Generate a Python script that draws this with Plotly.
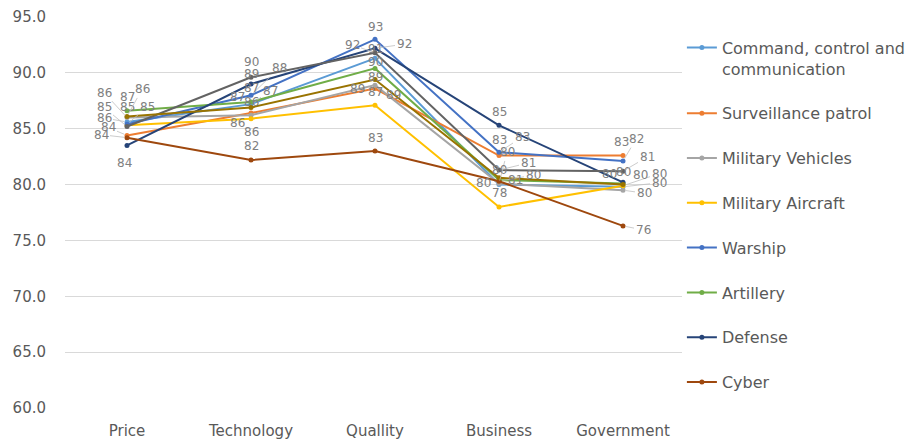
import math
import plotly.graph_objects as go

categories = ["Price", "Technology", "Quallity", "Business", "Government"]

command = [85.6, 87.2, 91.3, 80.0, 79.8]
surveillance = [84.4, 86.4, 88.6, 82.6, 82.6]
vehicles = [86.0, 86.2, 88.9, 80.1, 79.5]
aircraft = [85.3, 85.9, 87.1, 78.0, 79.9]
warship = [85.4, 88.0, 93.0, 82.9, 82.1]
artillery = [86.6, 87.4, 90.4, 80.4, 80.1]
defense = [83.5, 89.0, 92.2, 85.3, 80.2]
cyber = [84.2, 82.2, 83.0, 80.3, 76.3]
series9 = [85.2, 89.6, 91.8, 81.3, 81.2]
series10 = [86.1, 86.9, 89.4, 80.6, 80.0]

names = ["Command, control and<br>communication", "Surveillance patrol", "Military Vehicles",
         "Military Aircraft", "Warship", "Artillery", "Defense", "Cyber", "Series 9", "Series 10"]
data = [command, surveillance, vehicles, aircraft, warship, artillery, defense, cyber, series9, series10]
colors = ["#5B9BD5", "#ED7D31", "#A5A5A5", "#FFC000", "#4472C4", "#70AD47",
          "#264478", "#9E480E", "#636363", "#997300"]

# data-label offsets in pixels (dx right, dy down)
label_offsets = [
    [(-23, -4), (19, -13), (0, -9), (-16, -2), (36, -4)],
    [(-19, -8), (0, -11), (18, 6), (0, -16), (-2, -14)],
    [(-23, -25), (-14, 8), (-18, 4), (8, -31), (21, 3)],
    [(0, -18), (0, 13), (0, -13), (0, -14), (36, -12)],
    [(20, -17), (28, -27), (0, -12), (23, -15), (13, -22)],
    [(0, -14), (-14, -5), (0, -6), (0, -10), (0, -11)],
    [(-3, 18), (0, -10), (29, -4), (0, -13), (-14, -8)],
    [(-26, -3), (0, -14), (0, -13), (34, -6), (20, 4)],
    [(-23, -19), (0, -15), (-23, -8), (29, -7), (24, -14)],
    [(15, -27), (0, -19), (0, -3), (16, 2), (17, -10)],
]

fig = go.Figure()
for i, (nm, vals, col) in enumerate(zip(names, data, colors)):
    fig.add_trace(go.Scatter(
        x=categories, y=vals, name=nm, mode="lines+markers",
        line=dict(color=col, width=2), marker=dict(color=col, size=5),
        showlegend=i < 8, legendgroup=f"g{i}",
    ))

annotations = []
for vals, offs in zip(data, label_offsets):
    for cat, v, (dx, dy) in zip(categories, vals, offs):
        common = dict(x=cat, y=v, xref="x", yref="y", text=f"{v:.0f}",
                      font=dict(family="DejaVu Sans, sans-serif", size=12, color="#808080"))
        if math.hypot(dx, dy) > 20:
            annotations.append(dict(**common, showarrow=True, ax=dx, ay=dy,
                                    arrowhead=0, arrowwidth=0.8, arrowcolor="#BFBFBF",
                                    standoff=3))
        else:
            annotations.append(dict(**common, showarrow=False, xshift=dx, yshift=-dy))

fig.update_layout(
    width=920, height=439,
    margin=dict(l=65, r=235, t=17, b=31, autoexpand=False),
    paper_bgcolor="white", plot_bgcolor="white",
    font=dict(family="DejaVu Sans, sans-serif", color="#595959", size=15),
    xaxis=dict(type="category", range=[-0.5, 4.5], showgrid=False, showline=False,
               ticks="", tickfont=dict(size=15, color="#595959"), automargin=False,
               ticklabelstandoff=12),
    yaxis=dict(range=[60, 95], dtick=5, tickformat=".1f", showgrid=True,
               gridcolor="#D9D9D9", gridwidth=1, zeroline=False, showline=False,
               ticks="", tickfont=dict(size=15, color="#595959"), ticklabelstandoff=18,
               automargin=False),
    legend=dict(x=0.995, xanchor="left", y=0.965, yanchor="top", valign="top",
                tracegroupgap=21, font=dict(size=16, color="#595959"),
                itemwidth=30),
    annotations=annotations,
)

fig.write_html("out.html")
